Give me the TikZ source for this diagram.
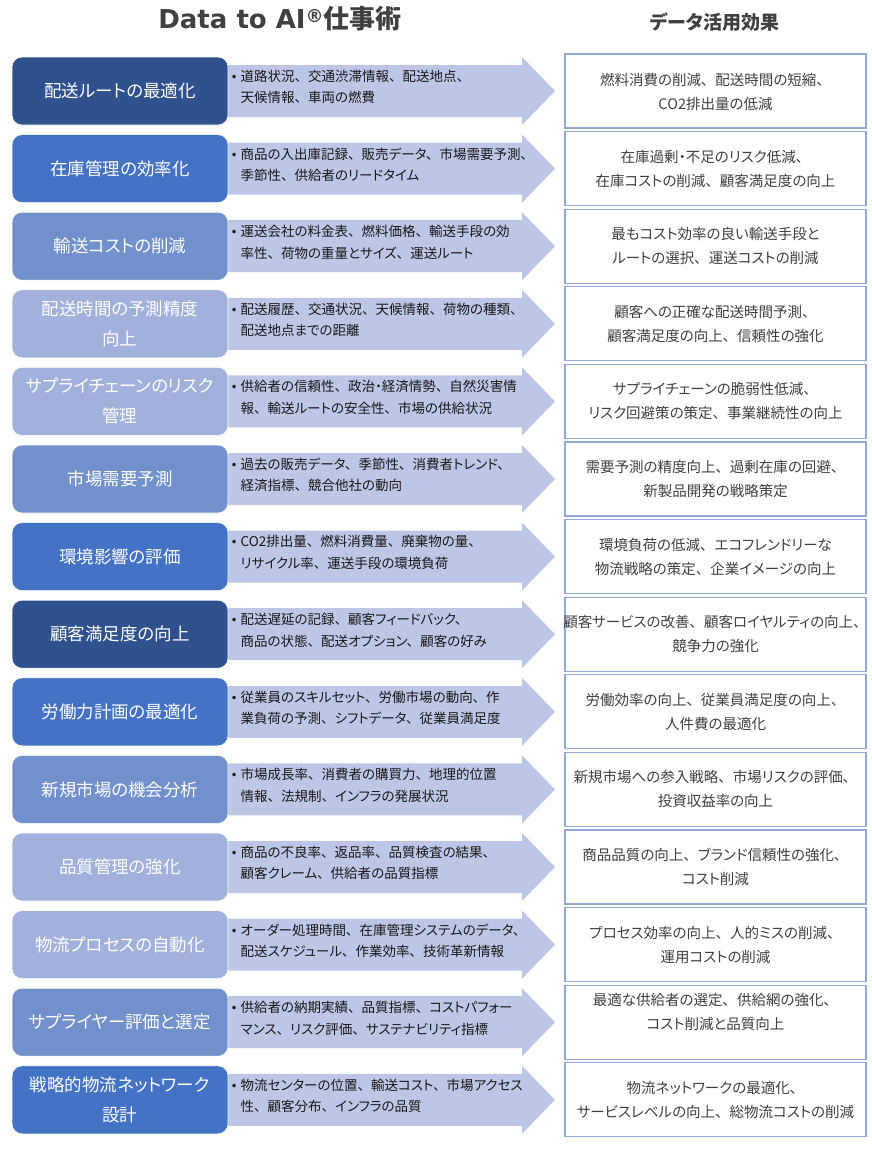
\documentclass[tikz,border=0pt]{standalone}
\usepackage{fontspec}
\setmainfont{Noto Sans CJK JP}[RawFeature=+palt]
\newfontfamily\jpp{Noto Sans CJK JP}[RawFeature=+palt]
\newfontfamily\dvs{DejaVu Sans}
\XeTeXinterchartokenstate=1
\newXeTeXintercharclass\jpcomma
\XeTeXcharclass`、=\jpcomma
\XeTeXinterchartoks\jpcomma 0={\kern0.5em}
\XeTeXinterchartoks\jpcomma 1={\kern0.5em}
\XeTeXinterchartoks\jpcomma 2={\kern0.5em}
\XeTeXinterchartoks\jpcomma 3={\kern0.5em}
\XeTeXinterchartoks\jpcomma 4095={\kern0.5em}
\definecolor{cdark}{HTML}{2F528F}
\definecolor{cmid}{HTML}{4472C4}
\definecolor{clm}{HTML}{7290CC}
\definecolor{clt}{HTML}{A2B1DB}
\definecolor{carrow}{HTML}{BDC6E6}
\definecolor{cborder}{HTML}{8FAADC}
\definecolor{ctext}{HTML}{404040}
\definecolor{ctitle}{HTML}{404040}
\tikzset{
  leftbox/.style={rounded corners=10pt, minimum width=216pt, minimum height=68pt,
    text=white, font=\jpp\fontsize{17.5}{30}\selectfont, align=center, inner sep=0pt,
    draw=white, line width=0.6pt},
  intext/.style={anchor=west, align=left, font=\fontsize{13.5}{21.5}\selectfont,
    inner sep=0pt, text=black!90},
  rightbox/.style={draw=cborder, line width=1.2pt, fill=white, minimum width=301pt,
    minimum height=74pt, inner sep=0pt},
  righttext/.style={align=center, font=\fontsize{14.5}{24}\selectfont, text=ctext, inner sep=0pt},
  arrowshape/.style={fill=carrow}
}
\newcommand\drow[8]{%
  \pgfmathsetmacro\cy{91+77.6*#1}
  \fill[arrowshape] (224,\cy-26) -- (522,\cy-26) -- (522,\cy-34) -- (555,\cy)
     -- (522,\cy+34) -- (522,\cy+26) -- (224,\cy+26) -- cycle;
  \node[leftbox, fill=#2] (L#1) at (120,\cy) {#3};
  \node[intext] (T#1) at (230.5,\cy-4) {\makebox[10pt][l]{{\dvs\fontsize{12}{12}\selectfont •}}#4\\\hspace*{10pt}#5};
  \node[rightbox] (R#1) at (715.5,\cy) {};
  \node[righttext] (RT#1) at ([yshift=#8]R#1.center) {#6\\#7};
}
\begin{document}
\begin{tikzpicture}[x=1pt,y=-1pt]
\useasboundingbox (0,0) rectangle (872,1152);
\fill[white] (0,0) rectangle (872,1152);
\node[font=\fontsize{26}{26}\selectfont, text=ctitle, inner sep=0pt] (title) at (280,19)
  {{\dvs\bfseries Data to AI}{\dvs\bfseries\fontsize{18}{18}\selectfont\raisebox{6pt}{®}}\textbf{仕事術}};
\node[font=\jpp\fontsize{19}{19}\selectfont\bfseries, text=ctitle, inner sep=0pt] (title2) at (715,22) {データ活用効果};
\drow{0}{cdark}{配送ルートの最適化}{道路状況、交通渋滞情報、配送地点、}{天候情報、車両の燃費}{燃料消費の削減、配送時間の短縮、}{CO2排出量の低減}{-1pt}
\drow{1}{cmid}{在庫管理の効率化}{商品の入出庫記録、販売データ、市場需要予測、}{季節性、供給者のリードタイム}{在庫過剰・不足のリスク低減、}{在庫コストの削減、顧客満足度の向上}{0pt}
\drow{2}{clm}{輸送コストの削減}{運送会社の料金表、燃料価格、輸送手段の効}{率性、荷物の重量とサイズ、運送ルート}{最もコスト効率の良い輸送手段と}{ルートの選択、運送コストの削減}{0pt}
\drow{3}{clt}{配送時間の予測精度\\向上}{配送履歴、交通状況、天候情報、荷物の種類、}{配送地点までの距離}{顧客への正確な配送時間予測、}{顧客満足度の向上、信頼性の強化}{0pt}
\drow{4}{clt}{サプライチェーンのリスク\\管理}{供給者の信頼性、政治・経済情勢、自然災害情}{報、輸送ルートの安全性、市場の供給状況}{サプライチェーンの脆弱性低減、}{リスク回避策の策定、事業継続性の向上}{0pt}
\drow{5}{clm}{市場需要予測}{過去の販売データ、季節性、消費者トレンド、}{経済指標、競合他社の動向}{需要予測の精度向上、過剰在庫の回避、}{新製品開発の戦略策定}{0pt}
\drow{6}{cmid}{環境影響の評価}{CO2排出量、燃料消費量、廃棄物の量、}{リサイクル率、運送手段の環境負荷}{環境負荷の低減、エコフレンドリーな}{物流戦略の策定、企業イメージの向上}{0pt}
\drow{7}{cdark}{顧客満足度の向上}{配送遅延の記録、顧客フィードバック、}{商品の状態、配送オプション、顧客の好み}{顧客サービスの改善、顧客ロイヤルティの向上、}{競争力の強化}{0pt}
\drow{8}{cmid}{労働力計画の最適化}{従業員のスキルセット、労働市場の動向、作}{業負荷の予測、シフトデータ、従業員満足度}{労働効率の向上、従業員満足度の向上、}{人件費の最適化}{0pt}
\drow{9}{clm}{新規市場の機会分析}{市場成長率、消費者の購買力、地理的位置}{情報、法規制、インフラの発展状況}{新規市場への参入戦略、市場リスクの評価、}{投資収益率の向上}{0pt}
\drow{10}{clt}{品質管理の強化}{商品の不良率、返品率、品質検査の結果、}{顧客クレーム、供給者の品質指標}{商品品質の向上、ブランド信頼性の強化、}{コスト削減}{0pt}
\drow{11}{clt}{物流プロセスの自動化}{オーダー処理時間、在庫管理システムのデータ、}{配送スケジュール、作業効率、技術革新情報}{プロセス効率の向上、人的ミスの削減、}{運用コストの削減}{0pt}
\drow{12}{clm}{サプライヤー評価と選定}{供給者の納期実績、品質指標、コストパフォー}{マンス、リスク評価、サステナビリティ指標}{最適な供給者の選定、供給網の強化、}{コスト削減と品質向上}{10pt}
\drow{13}{cmid}{戦略的物流ネットワーク\\設計}{物流センターの位置、輸送コスト、市場アクセス}{性、顧客分布、インフラの品質}{物流ネットワークの最適化、}{サービスレベルの向上、総物流コストの削減}{0pt}
\end{tikzpicture}
\end{document}
